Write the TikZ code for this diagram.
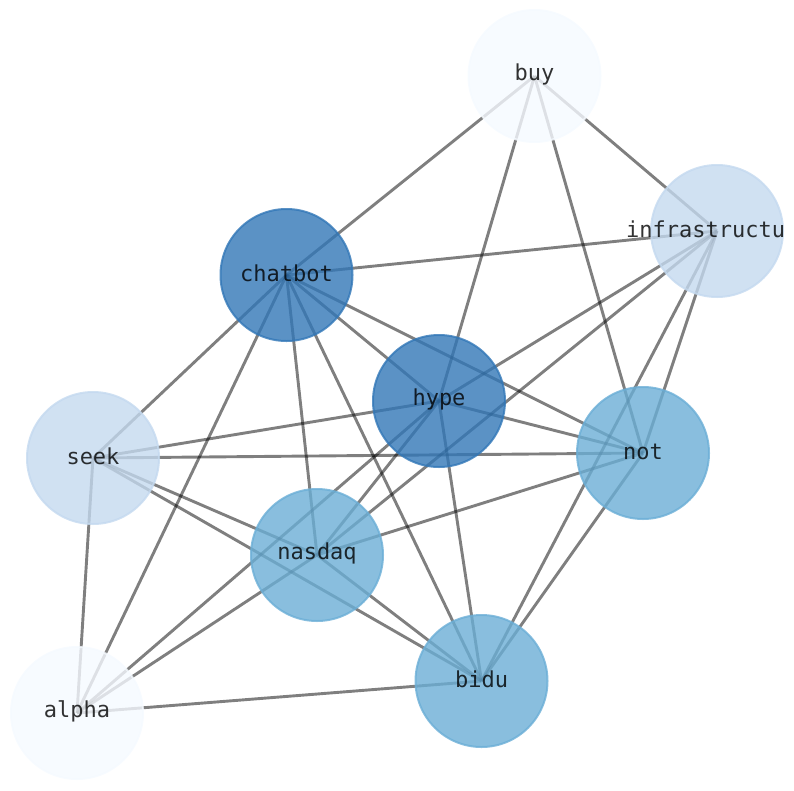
\documentclass[tikz,border=0pt]{standalone}
\usepackage{fontspec}
\newfontfamily\labfont{DejaVu Sans Mono}
\usetikzlibrary{backgrounds}
\definecolor{cdark}{RGB}{50,119,183}
\definecolor{cmid}{RGB}{107,174,214}
\definecolor{clight}{RGB}{196,217,239}
\definecolor{cpale}{RGB}{245,250,255}
\tikzset{
  vtx/.style={circle, minimum size=132pt, inner sep=0pt, fill opacity=0.8, draw opacity=0.8, line width=2pt},
  vdark/.style={vtx, fill=cdark, draw=cdark},
  vmid/.style={vtx, fill=cmid, draw=cmid},
  vlight/.style={vtx, fill=clight, draw=clight},
  vpale/.style={vtx, fill=cpale, draw=cpale},
  lab/.style={inner sep=0pt, yshift=1.5pt, text=black, text opacity=0.8, font=\labfont\fontsize{22}{26}\selectfont},
  edge/.style={draw=black, draw opacity=0.5, line width=2.9pt}
}
\begin{document}
\begin{tikzpicture}[x=1pt,y=-1pt]
\useasboundingbox (0,0) rectangle (794,790);
% node circles
\node[vpale]  (buy)     at (534.5,76) {};
\node[vlight] (infra)   at (717,231) {};
\node[vdark]  (chatbot) at (286.5,275) {};
\node[vdark]  (hype)    at (439,401) {};
\node[vlight] (seek)    at (93,458) {};
\node[vmid]   (not)     at (643,453) {};
\node[vmid]   (nasdaq)  at (317,555) {};
\node[vmid]   (bidu)    at (481.5,681) {};
\node[vpale]  (alpha)   at (77,713) {};
% labels
\node[lab] (Lbuy)     at (buy.center) {buy};
\node[lab, anchor=west] (Linfra) at (626,231) {infrastructu};
\node[lab] (Lchatbot) at (chatbot.center) {chatbot};
\node[lab] (Lhype)    at (hype.center) {hype};
\node[lab] (Lseek)    at (seek.center) {seek};
\node[lab] (Lnot)     at (not.center) {not};
\node[lab] (Lnasdaq)  at (nasdaq.center) {nasdaq};
\node[lab] (Lbidu)    at (bidu.center) {bidu};
\node[lab] (Lalpha)   at (alpha.center) {alpha};
% edges
\begin{scope}[on background layer]
\foreach \a/\b in {buy/chatbot, buy/hype, buy/not, buy/infra,
  infra/chatbot, infra/hype, infra/nasdaq, infra/not, infra/bidu,
  chatbot/hype, chatbot/not, chatbot/seek, chatbot/nasdaq, chatbot/bidu, chatbot/alpha,
  hype/seek, hype/not, hype/nasdaq, hype/bidu, hype/alpha,
  seek/not, seek/nasdaq, seek/bidu, seek/alpha,
  not/nasdaq, not/bidu,
  nasdaq/bidu, nasdaq/alpha,
  bidu/alpha}
  \draw[edge] (\a.center) -- (\b.center);
\end{scope}
\end{tikzpicture}
\end{document}
